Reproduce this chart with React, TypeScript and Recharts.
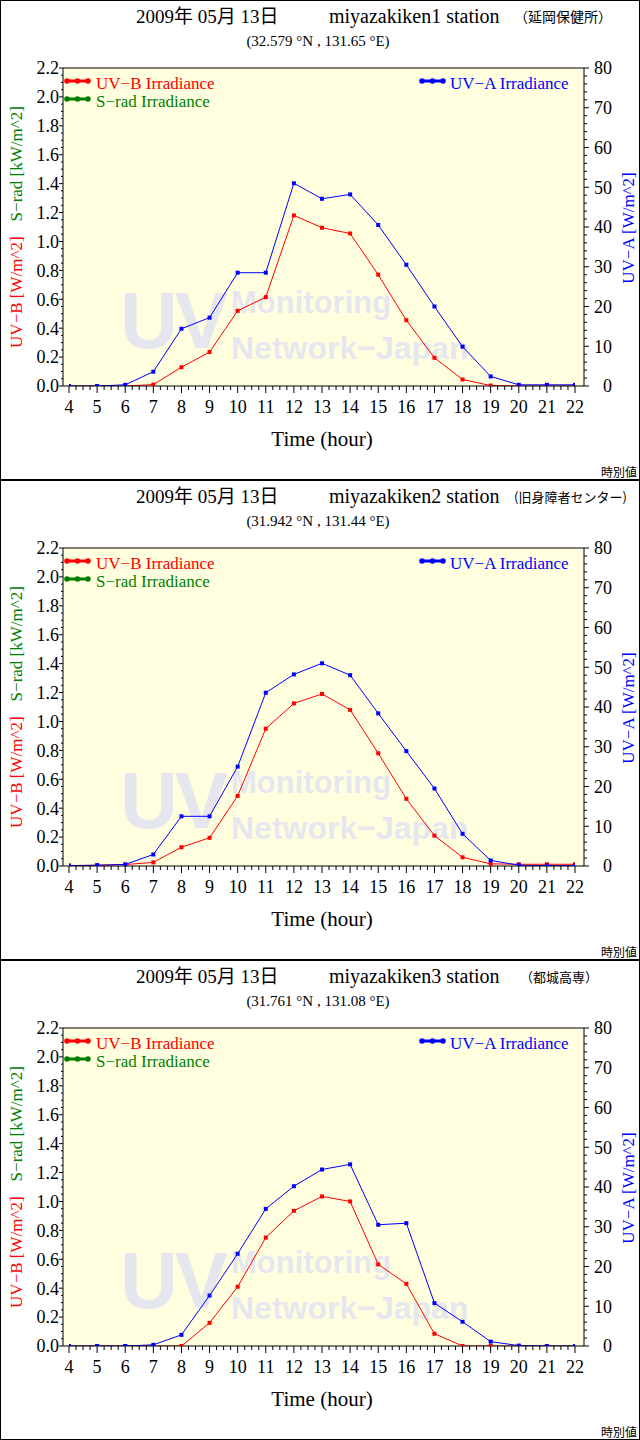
import { CartesianGrid, Line, LineChart, ReferenceArea, ReferenceLine, XAxis, YAxis } from 'recharts'

const SERIF = "'Liberation Serif', 'Noto Sans CJK JP', serif"
const CJK = "'Noto Sans CJK JP', sans-serif"
const SANS = "'Liberation Sans', Arial, sans-serif"

const hours = [4, 5, 6, 7, 8, 9, 10, 11, 12, 13, 14, 15, 16, 17, 18, 19, 20, 21, 22]
const uvbTicks = [0, 0.2, 0.4, 0.6, 0.8, 1.0, 1.2, 1.4, 1.6, 1.8, 2.0, 2.2]
const uvaTicks = [0, 10, 20, 30, 40, 50, 60, 70, 80]

// minor tick marks (15 min, 0.05, 2); the labelled ones come from the lists above
const hourMinor = Array.from({ length: 73 }, (_, i) => 4 + i / 4)
const uvbMinor = Array.from({ length: 45 }, (_, i) => Math.round(i * 5) / 100)
const uvaMinor = Array.from({ length: 41 }, (_, i) => i * 2)

// UV-B [W/m^2], UV-A [W/m^2], hourly values 4..22
const uvbNobeoka = [0, 0, 0, 0.01, 0.13, 0.235, 0.52, 0.615, 1.18, 1.095, 1.055, 0.77, 0.455, 0.195, 0.045, 0.003, 0, 0, 0]
const uvaNobeoka = [0, 0, 0.3, 3.6, 14.4, 17.2, 28.5, 28.5, 51.0, 47.1, 48.2, 40.5, 30.5, 20.0, 9.9, 2.4, 0.3, 0.3, 0.3]

const uvbMiyazaki = [0.003, 0.005, 0.01, 0.025, 0.13, 0.195, 0.485, 0.95, 1.125, 1.19, 1.08, 0.78, 0.465, 0.21, 0.06, 0.015, 0.012, 0.012, 0.012]
const uvaMiyazaki = [0.1, 0.2, 0.4, 2.9, 12.5, 12.5, 25.0, 43.6, 48.2, 51.0, 48.0, 38.4, 28.9, 19.5, 8.1, 1.4, 0.2, 0.1, 0.1]

const uvbMiyakonojo = [0, 0, 0, 0, 0, 0.16, 0.41, 0.75, 0.935, 1.035, 1.0, 0.565, 0.43, 0.085, 0, 0, 0, 0, 0]
const uvaMiyakonojo = [0, 0, 0, 0.3, 2.8, 12.7, 23.2, 34.5, 40.2, 44.4, 45.7, 30.5, 30.9, 10.8, 6.1, 1.1, 0.1, 0, 0]

const stations = [
  { name: 'miyazakiken1 station', place: '（延岡保健所）', placeX: 514, placeSize: 14, coords: '(32.579 °N , 131.65 °E)', uvb: uvbNobeoka, uva: uvaNobeoka },
  { name: 'miyazakiken2 station', place: '(旧身障者センター)', placeX: 514, placeSize: 13, coords: '(31.942 °N , 131.44 °E)', uvb: uvbMiyazaki, uva: uvaMiyazaki },
  { name: 'miyazakiken3 station', place: '（都城高専）', placeX: 520, placeSize: 13, coords: '(31.761 °N , 131.08 °E)', uvb: uvbMiyakonojo, uva: uvaMiyakonojo },
]

const near = (a: number, b: number) => Math.abs(a - b) < 1e-6

const squareDot = (color: string) => (props: any) => {
  const { cx, cy, index } = props
  if (cx == null || cy == null) return <g key={index} />
  return <rect key={index} x={cx - 2} y={cy - 2} width={4} height={4} fill={color} />
}

function Watermark(props: any) {
  const { x, y, height } = props
  const base = y + height
  return (
    <g fill="#e6e6ee" fontFamily={SANS} fontWeight="bold">
      <text x={x + 51} y={base - 38} fontSize={80} letterSpacing={-3}>UV</text>
      <text x={x + 162} y={base - 73} fontSize={31}>Monitoring</text>
      <text x={x + 162} y={base - 27} fontSize={32}>Network−Japan</text>
    </g>
  )
}

function BottomTick(props: any) {
  const { x, y, payload } = props
  const major = hours.some((h) => near(h, payload.value))
  return (
    <g>
      <line x1={x} y1={y} x2={x} y2={y + (major ? 7 : 4)} stroke="#000" />
      {major && (
        <text x={x} y={y + 14} dy="0.71em" textAnchor="middle" fontSize={18} fontFamily={SERIF} fill="#000">
          {payload.value}
        </text>
      )}
    </g>
  )
}

function LeftTick(props: any) {
  const { x, y, payload } = props
  const major = uvbTicks.some((t) => near(t, payload.value))
  return (
    <g>
      <line x1={x} y1={y} x2={x - (major ? 4 : 2)} y2={y} stroke="#000" />
      {major && (
        <text x={x - 4} y={y} dy="0.355em" textAnchor="end" fontSize={18} fontFamily={SERIF} fill="#000">
          {payload.value.toFixed(1)}
        </text>
      )}
    </g>
  )
}

function RightTick(props: any) {
  const { x, y, payload } = props
  const major = uvaTicks.some((t) => near(t, payload.value))
  return (
    <g>
      <line x1={x} y1={y} x2={x + (major ? 5 : 3)} y2={y} stroke="#000" />
      {major && (
        <text x={x + 28} y={y} dy="0.355em" textAnchor="end" fontSize={18} fontFamily={SERIF} fill="#000">
          {payload.value}
        </text>
      )}
    </g>
  )
}

function LegendMark({ x, y, color }: { x: number; y: number; color: string }) {
  return (
    <g fill={color} stroke={color}>
      <line x1={x} y1={y} x2={x + 25} y2={y} strokeWidth={3} />
      <circle cx={x + 2} cy={y} r={2.8} stroke="none" />
      <circle cx={x + 12.5} cy={y} r={2.8} stroke="none" />
      <circle cx={x + 23} cy={y} r={2.8} stroke="none" />
    </g>
  )
}

function Panel({ station }: { station: (typeof stations)[number] }) {
  const data = hours.map((h, i) => ({ hour: h, uvb: station.uvb[i], uva: station.uva[i] }))
  return (
    <div style={{ position: 'relative', width: 640, height: 480 }}>
      <LineChart width={640} height={480} data={data} margin={{ top: 68, right: 6, bottom: 64, left: 13 }}>
        <CartesianGrid xAxisId="x" yAxisId="uvb" fill="#ffffe0" horizontal={false} vertical={false} />
        <XAxis
          xAxisId="x"
          dataKey="hour"
          type="number"
          domain={[4, 22]}
          ticks={hourMinor}
          interval={0}
          padding={{ left: 6, right: 9 }}
          height={30}
          tickSize={0}
          tickMargin={0}
          tickLine={false}
          stroke="#000"
          tick={BottomTick}
          allowDataOverflow
        />
        <YAxis
          yAxisId="uvb"
          orientation="left"
          domain={[0, 2.2]}
          ticks={uvbMinor}
          interval={0}
          width={50}
          tickSize={0}
          tickMargin={0}
          tickLine={false}
          stroke="#000"
          tick={LeftTick}
          allowDataOverflow
        />
        <YAxis
          yAxisId="uva"
          orientation="right"
          domain={[0, 80]}
          ticks={uvaMinor}
          interval={0}
          width={50}
          tickSize={0}
          tickMargin={0}
          tickLine={false}
          stroke="#000"
          tick={RightTick}
          allowDataOverflow
        />
        <ReferenceArea xAxisId="x" yAxisId="uvb" x1={4} x2={22} y1={0} y2={2.2} shape={Watermark} />
        <ReferenceLine xAxisId="x" yAxisId="uvb" y={2.2} stroke="#000" strokeWidth={1} />
        <Line xAxisId="x" yAxisId="uvb" dataKey="uvb" type="linear" stroke="#ff0000" strokeWidth={1} dot={squareDot('#ff0000')} activeDot={false} isAnimationActive={false} />
        <Line xAxisId="x" yAxisId="uva" dataKey="uva" type="linear" stroke="#0000ff" strokeWidth={1} dot={squareDot('#0000ff')} activeDot={false} isAnimationActive={false} />
      </LineChart>
      <svg width={640} height={480} style={{ position: 'absolute', left: 0, top: 0, pointerEvents: 'none' }}>
        <rect x={0.5} y={0.5} width={639} height={479} fill="none" stroke="#000" />
        <text x={136} y={23} fontSize={19} fontFamily={SERIF}>2009年 05月 13日</text>
        <text x={329} y={23} fontSize={20} fontFamily={SERIF}>{station.name}</text>
        <text x={station.placeX} y={22} fontSize={station.placeSize} fontFamily={CJK}>{station.place}</text>
        <text x={318} y={46} fontSize={15} fontFamily={SERIF} textAnchor="middle">{station.coords}</text>

        <LegendMark x={65} y={81} color="#ff0000" />
        <text x={96} y={89} fontSize={17} fontFamily={SERIF} fill="#ff0000">UV−B Irradiance</text>
        <LegendMark x={65} y={99} color="#008000" />
        <text x={96} y={107} fontSize={17} fontFamily={SERIF} fill="#008000">S−rad Irradiance</text>
        <LegendMark x={420} y={81} color="#0000ff" />
        <text x={450} y={89} fontSize={17} fontFamily={SERIF} fill="#0000ff">UV−A Irradiance</text>

        <text x={16} y={227} fontSize={17} fontFamily={SERIF} textAnchor="middle" dominantBaseline="central" transform="rotate(-90 16 227)">
          <tspan fill="#ff0000">UV−B [W/m^2]</tspan>
          <tspan fill="#008000" dx={15}>S−rad [kW/m^2]</tspan>
        </text>
        <text x={628} y={228} fontSize={17} fontFamily={SERIF} textAnchor="middle" dominantBaseline="central" fill="#0000ff" transform="rotate(-90 628 228)">
          UV−A [W/m^2]
        </text>
        <text x={322} y={446} fontSize={21} fontFamily={SERIF} textAnchor="middle">Time (hour)</text>
        <text x={637} y={477} fontSize={12} fontFamily={CJK} textAnchor="end">時別値</text>
      </svg>
    </div>
  )
}

export default function App() {
  return (
    <div style={{ width: 640, background: '#fff' }}>
      <style>{'body{margin:0;background:#fff}'}</style>
      {stations.map((s) => (
        <Panel key={s.name} station={s} />
      ))}
    </div>
  )
}
